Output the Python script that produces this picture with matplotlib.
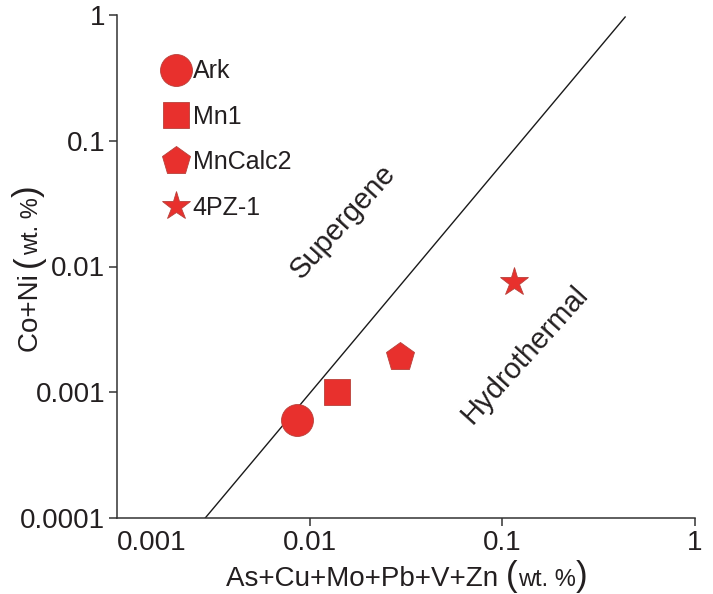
import matplotlib
matplotlib.use("Agg")
import matplotlib.pyplot as plt
from matplotlib.transforms import IdentityTransform

plt.rcParams['font.family'] = ['Liberation Sans', 'DejaVu Sans']

# ---- data ----
samples = ["Ark", "Mn1", "MnCalc2", "4PZ-1"]
x_vals = [0.00859, 0.0139, 0.0294, 0.115]       # As+Cu+Mo+Pb+V+Zn (wt. %)
y_vals = [0.000601, 0.00100, 0.00190, 0.00754]  # Co+Ni (wt. %)
markers = ["o", "s", "p", "*"]
msizes = [23, 19, 21, 21]

boundary_x = [0.00287, 0.434]
boundary_y = [0.0001, 0.964]

x_ticks = [0.001, 0.01, 0.1, 1]
x_ticklabels = ["0.001", "0.01", "0.1", "1"]
y_ticks = [0.0001, 0.001, 0.01, 0.1, 1]
y_ticklabels = ["0.0001", "0.001", "0.01", "0.1", "1"]

TXT = "#231f20"
RED = "#e8302d"
EDGE = "#b8403a"

W, H = 713, 594
fig = plt.figure(figsize=(W / 100, H / 100), dpi=100)
ax = fig.add_axes([117 / W, (H - 518) / H, 578 / W, 503 / H])

ax.set_xscale("log")
ax.set_yscale("log")
ax.set_xlim(0.001, 1)
ax.set_ylim(0.0001, 1)

ax.plot(boundary_x, boundary_y, color="#1a1a1a", lw=1.0, zorder=2)

for s, x, y, m, ms in zip(samples, x_vals, y_vals, markers, msizes):
    ax.plot([x], [y], linestyle="none", marker=m, markersize=ms,
            markerfacecolor=RED, markeredgecolor=EDGE, markeredgewidth=0.6,
            label=s, zorder=3)

ax.text(0.0149, 0.0226, "Supergene", rotation=48, fontsize=21, color=TXT,
        ha="center", va="center", rotation_mode="anchor")
ax.text(0.131, 0.00198, "Hydrothermal", rotation=48, fontsize=21, color=TXT,
        ha="center", va="center", rotation_mode="anchor")

for side in ("top", "right"):
    ax.spines[side].set_visible(False)
for side in ("left", "bottom"):
    ax.spines[side].set_color("#333333")
    ax.spines[side].set_linewidth(1.1)

ax.set_xticks(x_ticks)
ax.set_xticklabels(x_ticklabels)
ax.set_yticks(y_ticks)
ax.set_yticklabels(y_ticklabels)
ax.minorticks_off()
ax.tick_params(axis="both", which="major", direction="out", length=6,
               width=1.1, color="#333333", labelsize=20, labelcolor=TXT, pad=2.5)
ax.get_xticklabels()[0].set_ha("left")
ax.xaxis.get_major_ticks()[0].tick1line.set_visible(False)

leg = ax.legend(loc="upper left", bbox_to_anchor=(0.081, 0.912), frameon=False,
                fontsize=18, handlelength=1.0, handletextpad=0.15,
                labelspacing=0.86, borderpad=0, borderaxespad=0,
                numpoints=1)
for t in leg.get_texts():
    t.set_color(TXT)

# ---- axis labels with small "(wt. %)" ----
renderer = fig.canvas.get_renderer()
label_pieces_x = [("As+Cu+Mo+Pb+V+Zn ", 20), ("(", 25), ("wt. %", 17), (")", 25)]
label_pieces_y = [("Co+Ni ", 20), ("(", 25), ("wt. %", 17), (")", 25)]


def place(pieces, center, base, rotation):
    texts = []
    lengths = []
    for s, fs in pieces:
        t = fig.text(0, 0, s, fontsize=fs, color=TXT, ha="left", va="baseline",
                     rotation=rotation, rotation_mode="anchor",
                     transform=IdentityTransform())
        ext = t.get_window_extent(renderer)
        lengths.append(ext.width if rotation == 0 else ext.height)
        texts.append(t)
    pos = center - sum(lengths) / 2
    for t, L in zip(texts, lengths):
        if rotation == 0:
            t.set_position((pos, base))
        else:
            t.set_position((base, pos))
        pos += L


place(label_pieces_x, 407, H - 586, 0)
place(label_pieces_y, H - 269, 38, 90)

fig.savefig("out.png", dpi=100)
